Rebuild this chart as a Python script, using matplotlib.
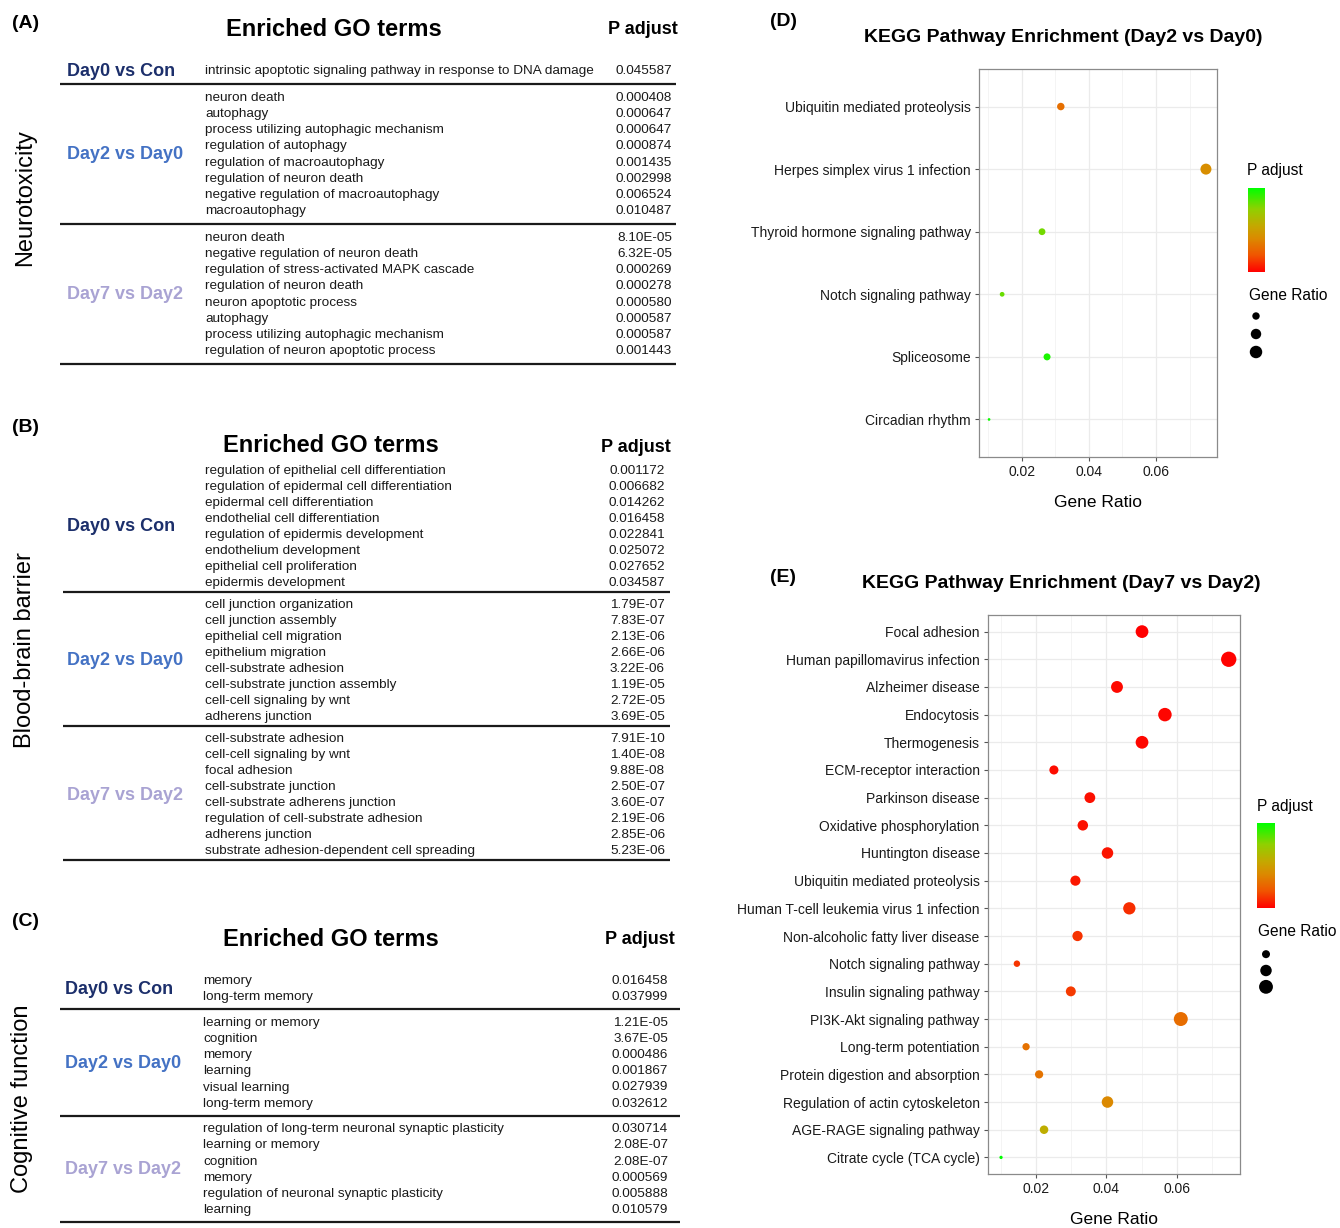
import numpy as np
import matplotlib
matplotlib.use('Agg')
import matplotlib.pyplot as plt
from matplotlib.colors import LinearSegmentedColormap, Normalize
from matplotlib.cm import ScalarMappable
from matplotlib.ticker import MultipleLocator, FormatStrFormatter

FONT = ['Liberation Sans', 'DejaVu Sans']
plt.rcParams['font.family'] = FONT

W, H = 1340, 1228
TEXT_DY = 2  # nudge so 'center' sits on the visual middle of lowercase text

# comparison groups shared by the three GO tables
groups = ['Day0 vs Con', 'Day2 vs Day0', 'Day7 vs Day2']
group_colors = ['#1c2f6b', '#4472c4', '#a9a3d3']

# (A) neurotoxicity
nt_terms = [
    ['intrinsic apoptotic signaling pathway in response to DNA damage'],
    ['neuron death', 'autophagy', 'process utilizing autophagic mechanism',
     'regulation of autophagy', 'regulation of macroautophagy',
     'regulation of neuron death', 'negative regulation of macroautophagy',
     'macroautophagy'],
    ['neuron death', 'negative regulation of neuron death',
     'regulation of stress-activated MAPK cascade', 'regulation of neuron death',
     'neuron apoptotic process', 'autophagy',
     'process utilizing autophagic mechanism',
     'regulation of neuron apoptotic process'],
]
nt_padj = [
    ['0.045587'],
    ['0.000408', '0.000647', '0.000647', '0.000874', '0.001435', '0.002998',
     '0.006524', '0.010487'],
    ['8.10E-05', '6.32E-05', '0.000269', '0.000278', '0.000580', '0.000587',
     '0.000587', '0.001443'],
]

# (B) blood-brain barrier
bbb_terms = [
    ['regulation of epithelial cell differentiation',
     'regulation of epidermal cell differentiation',
     'epidermal cell differentiation', 'endothelial cell differentiation',
     'regulation of epidermis development', 'endothelium development',
     'epithelial cell proliferation', 'epidermis development'],
    ['cell junction organization', 'cell junction assembly',
     'epithelial cell migration', 'epithelium migration',
     'cell-substrate adhesion', 'cell-substrate junction assembly',
     'cell-cell signaling by wnt', 'adherens junction'],
    ['cell-substrate adhesion', 'cell-cell signaling by wnt', 'focal adhesion',
     'cell-substrate junction', 'cell-substrate adherens junction',
     'regulation of cell-substrate adhesion', 'adherens junction',
     'substrate adhesion-dependent cell spreading'],
]
bbb_padj = [
    ['0.001172', '0.006682', '0.014262', '0.016458', '0.022841', '0.025072',
     '0.027652', '0.034587'],
    ['1.79E-07', '7.83E-07', '2.13E-06', '2.66E-06', '3.22E-06', '1.19E-05',
     '2.72E-05', '3.69E-05'],
    ['7.91E-10', '1.40E-08', '9.88E-08', '2.50E-07', '3.60E-07', '2.19E-06',
     '2.85E-06', '5.23E-06'],
]

# (C) cognitive function
cog_terms = [
    ['memory', 'long-term memory'],
    ['learning or memory', 'cognition', 'memory', 'learning',
     'visual learning', 'long-term memory'],
    ['regulation of long-term neuronal synaptic plasticity',
     'learning or memory', 'cognition', 'memory',
     'regulation of neuronal synaptic plasticity', 'learning'],
]
cog_padj = [
    ['0.016458', '0.037999'],
    ['1.21E-05', '3.67E-05', '0.000486', '0.001867', '0.027939', '0.032612'],
    ['0.030714', '2.08E-07', '2.08E-07', '0.000569', '0.005888', '0.010579'],
]

# (D) KEGG Day2 vs Day0
d_terms = ['Ubiquitin mediated proteolysis', 'Herpes simplex virus 1 infection',
           'Thyroid hormone signaling pathway', 'Notch signaling pathway',
           'Spliceosome', 'Circadian rhythm']
d_ratio = [0.0316, 0.0749, 0.0260, 0.0141, 0.0275, 0.0102]
d_padj = [0.0150, 0.0210, 0.0400, 0.0410, 0.0475, 0.0490]

# (E) KEGG Day7 vs Day2
e_terms = ['Focal adhesion', 'Human papillomavirus infection', 'Alzheimer disease',
           'Endocytosis', 'Thermogenesis', 'ECM-receptor interaction',
           'Parkinson disease', 'Oxidative phosphorylation', 'Huntington disease',
           'Ubiquitin mediated proteolysis',
           'Human T-cell leukemia virus 1 infection',
           'Non-alcoholic fatty liver disease', 'Notch signaling pathway',
           'Insulin signaling pathway', 'PI3K-Akt signaling pathway',
           'Long-term potentiation', 'Protein digestion and absorption',
           'Regulation of actin cytoskeleton', 'AGE-RAGE signaling pathway',
           'Citrate cycle (TCA cycle)']
e_ratio = [0.0501, 0.0747, 0.0430, 0.0566, 0.0501, 0.0251, 0.0353, 0.0333,
           0.0403, 0.0312, 0.0465, 0.0318, 0.0146, 0.0299, 0.0611, 0.0172,
           0.0209, 0.0403, 0.0223, 0.0101]
e_padj = [0.0003, 0.0005, 0.0012, 0.0008, 0.0010, 0.0015, 0.0018, 0.0020,
          0.0022, 0.0026, 0.0046, 0.0050, 0.0052, 0.0058, 0.0118, 0.0125,
          0.0128, 0.0160, 0.0230, 0.0400]

size_breaks = [0.02, 0.04, 0.06]

# red (low p) -> green (high p), roughly a Lab blend like ggplot's gradient
padj_cmap = LinearSegmentedColormap.from_list(
    'padj', [(0.0, '#ff0000'), (0.2, '#f05500'), (0.4, '#db8a00'),
             (0.55, '#c4a800'), (0.75, '#90d000'), (1.0, '#00ff00')])

fig = plt.figure(figsize=(W / 100, H / 100), dpi=100)


def px_axes(x0, y0, x1, y1):
    return fig.add_axes([x0 / W, 1 - y1 / H, (x1 - x0) / W, (y1 - y0) / H])


canvas = px_axes(0, 0, W, H)
canvas.set_xlim(0, W)
canvas.set_ylim(H, 0)
canvas.axis('off')


def put(x, y, s, **kw):
    kw.setdefault('va', 'center')
    return canvas.text(x, y + TEXT_DY, s, **kw)


def draw_go_table(terms, padj, lay):
    put(lay['letter'][0], lay['letter'][1], lay['letter'][2],
        fontsize=14, fontweight='bold', ha='left')
    put(lay['cat'][0], lay['cat'][1], lay['cat'][2], fontsize=17,
        rotation=90, ha='center')
    put(lay['title'][0], lay['title'][1], 'Enriched GO terms',
        fontsize=17, fontweight='bold', ha='center')
    put(lay['padj'][0], lay['padj'][1], 'P adjust', fontsize=13,
        fontweight='bold', ha='right')
    y = lay['first_row']
    for label, color, rows, vals in zip(groups, group_colors, terms, padj):
        ys = y + lay['pitch'] * np.arange(len(rows))
        for yy, term, val in zip(ys, rows, vals):
            put(lay['term_x'], yy, term, fontsize=9.7, color='#1a1a1a',
                ha='left')
            put(lay['value_x'], yy, val, fontsize=9.7, color='#1a1a1a',
                ha='right')
        put(lay['label_x'], ys.mean(), label, fontsize=13,
            fontweight='bold', color=color, ha='left')
        line_y = ys[-1] + lay['line_gap']
        canvas.plot(lay['line_x'], [line_y, line_y], color='#1a1a1a', lw=1.6,
                    solid_capstyle='butt')
        y = line_y + lay['next_gap']


draw_go_table(nt_terms, nt_padj, dict(
    letter=(12, 22, '(A)'), cat=(25, 196, 'Neurotoxicity'), title=(334, 27),
    padj=(678, 27), first_row=69, pitch=16.14, line_gap=15, next_gap=12,
    line_x=(60, 676), label_x=67, term_x=205, value_x=672))
draw_go_table(bbb_terms, bbb_padj, dict(
    letter=(12, 426, '(B)'), cat=(25, 648, 'Blood-brain barrier'),
    title=(331, 443), padj=(671, 445), first_row=469, pitch=15.95,
    line_gap=11.5, next_gap=11, line_x=(63, 670), label_x=67, term_x=205,
    value_x=665))
draw_go_table(cog_terms, cog_padj, dict(
    letter=(12, 919, '(C)'), cat=(22, 1097, 'Cognitive function'),
    title=(331, 937), padj=(675, 938), first_row=979, pitch=16.2,
    line_gap=14, next_gap=11.5, line_x=(60, 680), label_x=65, term_x=203,
    value_x=668))


def ratio_to_size(r, rmin, rmax, dmin, dmax):
    # area palette: diameter grows with the square root of the rescaled ratio
    t = np.clip((np.asarray(r, dtype=float) - rmin) / (rmax - rmin), 0, 1)
    diam_px = dmin + np.sqrt(t) * (dmax - dmin)
    return (diam_px * 72 / 100) ** 2


def draw_kegg(box, terms, ratio, padj, norm, drange, key_scale, xlim,
              cbar_box, leg_box, title, title_xy, letter_xy, padj_lbl_xy,
              ratio_lbl_xy):
    ax = px_axes(*box)
    ypos = np.arange(1, len(terms) + 1)
    rmin, rmax = min(ratio), max(ratio)
    sizes = ratio_to_size(ratio, rmin, rmax, *drange)
    ax.scatter(ratio, ypos, s=sizes, c=padj, cmap=padj_cmap, norm=norm,
               edgecolors='none', zorder=3)
    ax.set_yticks(ypos, terms)
    ax.set_ylim(len(terms) + 0.6, 0.4)
    ax.set_xlim(*xlim)
    ax.xaxis.set_major_locator(MultipleLocator(0.02))
    ax.xaxis.set_minor_locator(MultipleLocator(0.01))
    ax.xaxis.set_major_formatter(FormatStrFormatter('%.2f'))
    ax.grid(which='major', color='#ebebeb', lw=0.9)
    ax.grid(which='minor', axis='x', color='#f2f2f2', lw=0.6)
    ax.set_axisbelow(True)
    for sp in ax.spines.values():
        sp.set_color('#8a8a8a')
        sp.set_linewidth(0.9)
    ax.tick_params(which='major', length=3, color='#555555', labelsize=10,
                   labelcolor='#1a1a1a', pad=3)
    ax.tick_params(which='minor', length=0)
    for lbl in ax.get_yticklabels() + ax.get_xticklabels():
        lbl.set_fontfamily(FONT)
    ax.set_xlabel('Gene Ratio', fontsize=12.5, labelpad=11)

    put(*title_xy, title, fontsize=14, fontweight='bold', ha='center')
    put(*letter_xy, fontsize=14, fontweight='bold', ha='left')

    # colour bar for p adjust
    cax = px_axes(*cbar_box)
    cb = fig.colorbar(ScalarMappable(norm=norm, cmap=padj_cmap), cax=cax)
    cb.set_ticks([])
    cb.outline.set_visible(False)
    put(*padj_lbl_xy, 'P adjust', fontsize=11.2, ha='left')

    # size key
    put(*ratio_lbl_xy, 'Gene Ratio', fontsize=11.2, ha='left')
    lax = px_axes(*leg_box)
    key_sizes = ratio_to_size(size_breaks, rmin, rmax, *drange) * key_scale ** 2
    lax.scatter(np.zeros(len(size_breaks)), np.arange(len(size_breaks)),
                s=key_sizes, color='black', edgecolors='none')
    lax.set_xlim(-1, 1)
    lax.set_ylim(len(size_breaks) - 0.5, -0.5)
    lax.axis('off')


draw_kegg((979, 69, 1217, 457), d_terms, d_ratio, d_padj,
          Normalize(0.0, 0.05), (2.7, 11.0), 1.25, (0.0072, 0.0782),
          (1248, 188, 1265, 272), (1246, 307, 1266, 361),
          'KEGG Pathway Enrichment (Day2 vs Day0)', (1063, 36),
          (770, 20, '(D)'), (1247, 169), (1249, 294))

draw_kegg((988, 615, 1240, 1174), e_terms, e_ratio, e_padj,
          Normalize(min(e_padj), max(e_padj)), (3.3, 15.3), 1.0,
          (0.0064, 0.0779), (1257, 823, 1275, 908), (1256, 946, 1276, 995),
          'KEGG Pathway Enrichment (Day7 vs Day2)', (1061, 582),
          (770, 575, '(E)'), (1257, 805), (1258, 930))

fig.savefig('out.png', dpi=100)
